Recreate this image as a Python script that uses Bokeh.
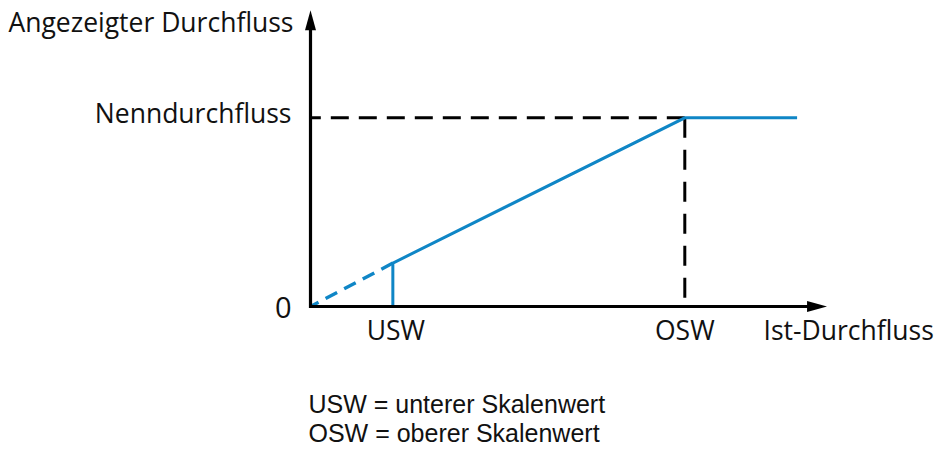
from bokeh.plotting import figure
from bokeh.models import Label, Range1d
from bokeh.embed import file_html
from bokeh.resources import INLINE

# ---- chart values (flow units, OSW = 100 %) ----
usw_x = 22          # lower scale value on the actual-flow axis
usw_y = 23          # displayed flow at USW
osw_x = 100         # upper scale value
nenn_y = 100        # nominal flow (Nenndurchfluss)
flat_end_x = 130    # end of the saturated part
x_axis_end = 138    # tip of x arrow
y_axis_end = 157    # tip of y arrow

y_labels = ["0", "Nenndurchfluss"]
x_labels = ["USW", "OSW"]
title_y = "Angezeigter Durchfluss"
title_x = "Ist-Durchfluss"
notes = ["USW = unterer Skalenwert", "OSW = oberer Skalenwert"]

# ---- layout / scale ----
W, H = 935, 450
SX, SY = 3.743, 1.887          # pixels per data unit
OX, OY = 310, 306              # origin in figure pixels (from top-left)
x0 = -OX / SX
y1 = OY / SY


def X(px):  # pixel -> data x
    return (px - OX) / SX


def Y(py):  # pixel -> data y
    return (OY - py) / SY


BLUE = "#0f86c6"
FONT = "Open Sans"
NOTE_FONT = "Liberation Sans"

p = figure(width=W, height=H, output_backend="svg", toolbar_location=None,
           x_range=Range1d(x0, x0 + W / SX), y_range=Range1d(y1 - H / SY, y1),
           min_border=0, x_axis_type=None, y_axis_type=None)
p.grid.visible = False
p.outline_line_color = None
p.background_fill_color = "white"
p.border_fill_color = "white"

# reference dashed lines
p.line([osw_x, 0], [nenn_y, nenn_y], line_color="black", line_width=3, line_dash="18 10")
p.line([osw_x, osw_x], [nenn_y, 0], line_color="black", line_width=3, line_dash="20 12")

# characteristic
p.line([usw_x, 0], [usw_y, 0], line_color=BLUE, line_width=3.4, line_dash="13 8")
p.line([usw_x, usw_x, osw_x, flat_end_x], [0, usw_y, nenn_y, nenn_y],
       line_color=BLUE, line_width=3, line_join="miter")

# axes with arrows
hl, hw = 20, 5.5
p.line([0, 0, x_axis_end - (hl - 2) / SX], [y_axis_end - (hl - 2) / SY, 0, 0],
       line_color="black", line_width=3.2, line_join="miter")
p.patch([x_axis_end, x_axis_end - hl / SX, x_axis_end - hl / SX],
        [0, hw / SY, -hw / SY], color="black", line_width=0)
p.patch([0, -hw / SX, hw / SX],
        [y_axis_end, y_axis_end - hl / SY, y_axis_end - hl / SY], color="black", line_width=0)

FS = "26.5px"
SHIFT_MAIN = 10.5   # rendered baseline sits lower than requested
SHIFT_NOTE = 9


def lab(x, py, t, align, font=FONT, size=FS, shift=SHIFT_MAIN):
    p.add_layout(Label(x=x, y=Y(py - shift), text=t, text_align=align,
                       text_baseline="alphabetic", text_font=font,
                       text_font_size=size, text_color="#111111"))


lab(X(293), 31.5, title_y, "right")
lab(X(291), 123.3, y_labels[1], "right")
lab(X(291), 318, y_labels[0], "right", FONT, "29px", 11.5)
lab(usw_x + X(396) - X(393), 340, x_labels[0], "center")
lab(osw_x, 340, x_labels[1], "center")
lab(X(763), 340, title_x, "left")
lab(X(308), 412.7, notes[0], "left", NOTE_FONT, "25px", SHIFT_NOTE)
lab(X(308), 441.5, notes[1], "left", NOTE_FONT, "25px", SHIFT_NOTE)

open("out.html", "w").write(file_html(p, INLINE))
